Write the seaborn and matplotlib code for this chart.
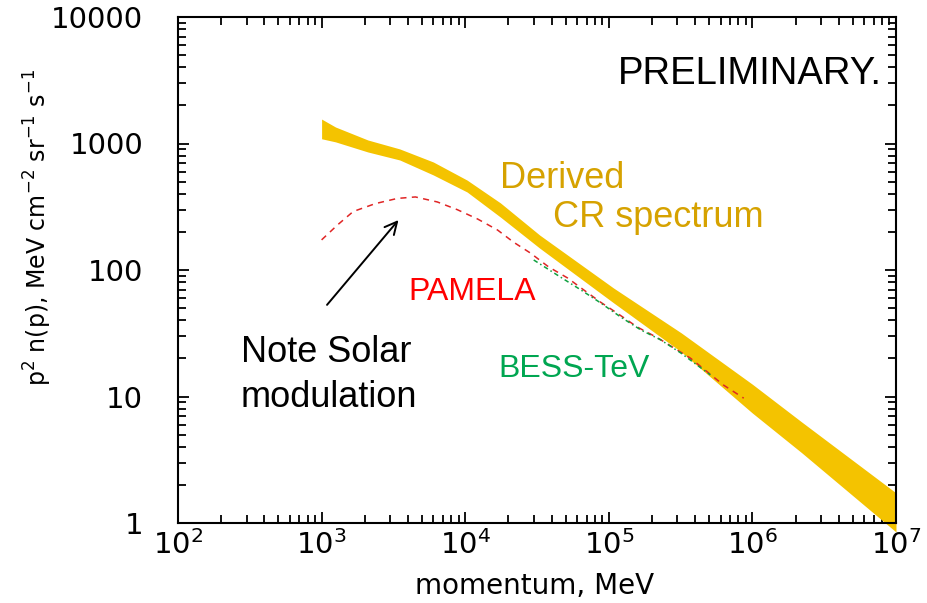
import seaborn as sns
import matplotlib.pyplot as plt
import numpy as np
from matplotlib.ticker import FixedLocator

# Derived CR spectrum band (momentum MeV, lower / upper edge)
band_p = [1.0e3, 1.25e3, 2.1e3, 3.5e3, 6.0e3, 1.03e4, 1.76e4, 3.3e4, 1.08e5, 3.2e5, 1.0e6, 2.2e6, 1.0e7]
band_lo = [1090, 1030, 857, 741, 564, 414, 262, 149, 55, 22.5, 7.4, 3.6, 0.85]
band_hi = [1560, 1350, 1066, 906, 714, 514, 339, 189, 72, 31.8, 12.5, 6.3, 1.73]

# PAMELA
pamela_p = [1.0e3, 1.29e3, 1.66e3, 2.37e3, 3.37e3, 4.5e3, 6.4e3, 8.8e3, 1.22e4, 1.68e4,
            2.17e4, 2.85e4, 3.8e4, 5.16e4, 6.7e4, 8.8e4, 1.14e5, 1.58e5, 2.2e5, 3.7e5,
            6.3e5, 8.7e5]
pamela_f = [173, 227, 290, 335, 368, 378, 345, 300, 253, 207,
            166, 136, 106, 86.5, 69.5, 55.5, 45.7, 35.4, 29, 20.1,
            12.3, 9.7]

# BESS-TeV
bess_p = [3.0e4, 4.6e4, 6.4e4, 8.8e4, 1.21e5, 1.67e5, 2.3e5, 3.17e5, 5.1e5]
bess_f = [120, 88, 69.5, 54.8, 42.5, 33.6, 28, 22.1, 14.8]

x_ticks = [1e2, 1e3, 1e4, 1e5, 1e6, 1e7]
x_ticklabels = [r"$\mathregular{10^{%d}}$" % k for k in range(2, 8)]
y_ticks = [1, 10, 100, 1000, 10000]
y_ticklabels = ["1", "10", "100", "1000", "10000"]

sns.set_style("ticks")
plt.rcParams["font.family"] = ["Liberation Sans", "DejaVu Sans"]
plt.rcParams["text.color"] = "black"
plt.rcParams["axes.labelcolor"] = "black"
plt.rcParams["mathtext.fontset"] = "dejavusans"

W, H = 927, 603
fig = plt.figure(figsize=(W / 100, H / 100), dpi=100)
ax = fig.add_axes([178 / W, 1 - 523 / H, (896 - 178) / W, (523 - 17) / H])
ax.set_xscale("log")
ax.set_yscale("log")

ax.fill_between(band_p, band_lo, band_hi, color="#F4C300", lw=0, clip_on=False, zorder=2)
sns.lineplot(x=pamela_p, y=pamela_f, ax=ax, color="#E02525", lw=1.1,
             linestyle=(0, (4, 3.5)), sort=False, zorder=3)
sns.lineplot(x=bess_p, y=bess_f, ax=ax, color="#10A040", lw=1.1,
             linestyle=(0, (3, 2, 1, 2)), sort=False, zorder=3)
ax.set_xlim(1e2, 1e7)
ax.set_ylim(1, 1e4)

# axes styling
minor_x = [k * 10.0 ** e for e in range(2, 7) for k in range(2, 10)]
minor_y = [k * 10.0 ** e for e in range(0, 4) for k in range(2, 10)]
ax.xaxis.set_major_locator(FixedLocator(x_ticks))
ax.yaxis.set_major_locator(FixedLocator(y_ticks))
ax.xaxis.set_minor_locator(FixedLocator(minor_x))
ax.yaxis.set_minor_locator(FixedLocator(minor_y))
ax.set_xticklabels(x_ticklabels, family="DejaVu Sans")
ax.set_yticklabels(y_ticklabels, family="DejaVu Sans")
ax.xaxis.set_minor_formatter(plt.NullFormatter())
ax.yaxis.set_minor_formatter(plt.NullFormatter())
for axis in (ax.xaxis, ax.yaxis):
    axis.set_tick_params(which="major", direction="in", length=8, width=1.3,
                         color="black", labelcolor="black", labelsize=21)
    axis.set_tick_params(which="minor", direction="in", length=6, width=1.3,
                         color="black")
ax.tick_params(which="both", top=True, right=True)
ax.tick_params(axis="x", which="major", pad=5)
ax.tick_params(axis="y", which="major", pad=25)
for s in ax.spines.values():
    s.set_linewidth(1.5)
    s.set_color("black")

fig.text(535 / W, 1 - 594 / H, "momentum, MeV", fontsize=20, family="DejaVu Sans",
         ha="center", va="baseline")
fig.text(38 / W, 1 - 228 / H, r"p$^{2}$ n(p), MeV cm$^{-2}$ sr$^{-1}$ s$^{-1}$",
         fontsize=17, family="DejaVu Sans", rotation=90, ha="center", va="center")

# annotations
fig.text(882 / W, 1 - 84 / H, "PRELIMINARY.", fontsize=27.5, ha="right", va="baseline")
fig.text(500 / W, 1 - 188 / H, "Derived", fontsize=26, color="#D6A200", va="baseline")
fig.text(553 / W, 1 - 227 / H, "CR spectrum", fontsize=26, color="#D6A200", va="baseline")
fig.text(408 / W, 1 - 300 / H, "PAMELA", fontsize=23, color="#FF0000", va="baseline")
fig.text(498 / W, 1 - 377 / H, "BESS-TeV", fontsize=23, color="#00A651", va="baseline")
fig.text(241 / W, 1 - 362 / H, "Note Solar", fontsize=26, va="baseline")
fig.text(241 / W, 1 - 407 / H, "modulation", fontsize=26, va="baseline")
ax.annotate("", xy=(3530, 258), xytext=(1060, 51),
            arrowprops=dict(arrowstyle="->", lw=1.4, color="black", mutation_scale=22))

fig.savefig("out.png", dpi=100)
